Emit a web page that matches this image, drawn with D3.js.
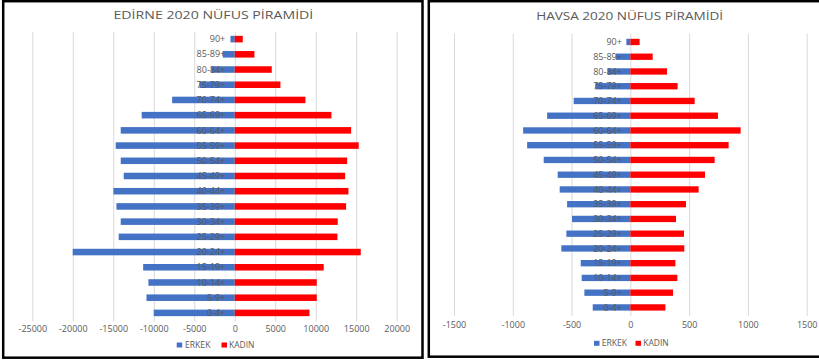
<!DOCTYPE html>
<html>
<head>
<meta charset="utf-8">
<script src="https://cdn.jsdelivr.net/npm/d3@7"></script>
<style>
  html, body { margin: 0; padding: 0; background: #fff; }
  svg { display: block; }
  text { font-family: "Open Sans", "DejaVu Sans", sans-serif; }
</style>
</head>
<body>
<svg id="chart" width="819" height="364"></svg>
<script>
// ---- data ----
const ageGroups = ["0-4+", "5-9+", "10-14+", "15-19+", "20-24+", "25-29+", "30-34+", "35-39+", "40-44+", "45-49+",
  "50-54+", "55-59+", "60-64+", "65-69+", "70-74+", "75-79+", "80-84+", "85-89+", "90+"];
const seriesNames = ["ERKEK", "KADIN"];

const edirneErkek = [10000, 10900, 10660, 11310, 20010, 14330, 14080, 14610, 14980, 13710,
  14080, 14700, 14080, 11490, 7730, 4360, 2900, 1480, 530];
const edirneKadin = [9230, 10130, 10130, 10990, 15560, 12680, 12720, 13750, 14040, 13630,
  13880, 15310, 14370, 11940, 8730, 5640, 4570, 2430, 990];

const havsaErkek = [320, 391, 414, 422, 587, 544, 496, 538, 601, 618,
  737, 878, 912, 708, 482, 298, 193, 122, 34];
const havsaKadin = [298, 363, 400, 383, 459, 456, 388, 473, 581, 635,
  717, 836, 938, 745, 547, 402, 312, 190, 79];

const edirneTicks = [-25000, -20000, -15000, -10000, -5000, 0, 5000, 10000, 15000, 20000];
const havsaTicks = [-1500, -1000, -500, 0, 500, 1000, 1500];

const edirneTitle = "EDİRNE 2020 NÜFUS PİRAMİDİ";
const havsaTitle = "HAVSA 2020 NÜFUS PİRAMİDİ";

// ---- styles ----
const BLUE = "#4472C4", RED = "#FF0000", GRID = "#d9d9d9", TXT = "#595959";

const svg = d3.select("#chart");

// place text so that it spans a target width by stretching the glyphs horizontally
function stretchedText(parent, txt, x0, cy, targetW, size, anchor) {
  const t = parent.append("text")
    .attr("x", 0).attr("y", 0).attr("dy", "0.35em")
    .attr("fill", TXT).style("font-size", size + "px")
    .text(txt);
  const w = t.node().getComputedTextLength() || targetW;
  const s = targetW / w;
  const left = anchor === "middle" ? x0 - targetW / 2 : x0;
  t.attr("transform", `translate(${left},${cy}) scale(${s},1)`);
  return t;
}

function drawPanel(cfg) {
  const g = svg.append("g");
  // frame
  g.append("rect")
    .attr("x", cfg.frame[0]).attr("y", cfg.frame[1])
    .attr("width", cfg.frame[2]).attr("height", cfg.frame[3])
    .attr("fill", "#fff").attr("stroke", "#000").attr("stroke-width", 2.5);

  const x = d3.scaleLinear().domain(cfg.domain).range(cfg.xRange);
  const cats = ageGroups.slice().reverse(); // top = 90+
  const y = d3.scaleBand().domain(cats).range(cfg.yRange).paddingInner(0.57).paddingOuter(0.285);

  // axis with gridlines
  const axis = d3.axisBottom(x)
    .tickValues(cfg.ticks)
    .tickFormat(d3.format("d"))
    .tickSizeInner(-(cfg.gridBottom - cfg.gridTop))
    .tickSizeOuter(0)
    .tickPadding(5);
  const ax = g.append("g")
    .attr("transform", `translate(0,${cfg.gridBottom})`)
    .call(axis);
  ax.select(".domain").remove();
  ax.selectAll(".tick line").attr("stroke", GRID).attr("stroke-width", 1);
  ax.selectAll(".tick text")
    .attr("fill", TXT)
    .style("font-size", "9px")
    .attr("dy", "0.35em")
    .attr("y", cfg.tickLabelY - cfg.gridBottom)
    .text(d => d3.format("d")(d).replace("−", "-"));

  const rows = ageGroups.map((a, i) => ({ age: a, m: cfg.male[i], f: cfg.female[i] }));
  const bh = y.bandwidth();

  g.append("g").selectAll("rect").data(rows).join("rect")
    .attr("x", d => x(-d.m)).attr("y", d => y(d.age))
    .attr("width", d => x(0) - x(-d.m)).attr("height", bh)
    .attr("fill", BLUE);
  g.append("g").selectAll("rect").data(rows).join("rect")
    .attr("x", x(0)).attr("y", d => y(d.age))
    .attr("width", d => x(d.f) - x(0)).attr("height", bh)
    .attr("fill", RED);

  // category labels (drawn over bars)
  g.append("g").selectAll("text").data(rows).join("text")
    .attr("x", x(0) - cfg.labelGap)
    .attr("y", d => y(d.age) + bh / 2)
    .attr("dy", "0.35em")
    .attr("text-anchor", "end")
    .attr("fill", TXT)
    .style("font-size", "9px")
    .text(d => d.age);

  // title
  stretchedText(g, cfg.title, cfg.titleX, cfg.titleY, cfg.titleW, 11, "middle");

  // legend
  const lg = g.append("g");
  const items = [
    { name: seriesNames[0], color: BLUE, sx: cfg.legend[0], tx: cfg.legend[1] },
    { name: seriesNames[1], color: RED, sx: cfg.legend[2], tx: cfg.legend[3] }
  ];
  items.forEach(it => {
    lg.append("rect").attr("x", it.sx).attr("y", cfg.legendY - 2.5)
      .attr("width", 5.5).attr("height", 5).attr("fill", it.color);
    stretchedText(lg, it.name, it.tx, cfg.legendY, 25.5, 8.5, "start");
  });
}

drawPanel({
  frame: [3.2, 1.2, 419.3, 356.5],
  domain: [-25000, 20000], xRange: [32.3, 396.7],
  yRange: [31.5, 320.5], gridTop: 32, gridBottom: 321.5, tickLabelY: 329,
  ticks: edirneTicks, male: edirneErkek, female: edirneKadin,
  labelGap: 9.5, title: edirneTitle, titleX: 213.5, titleY: 15, titleW: 200,
  legend: [176.7, 185, 221.5, 229], legendY: 345
});

drawPanel({
  frame: [428.8, 1.2, 410, 355.5],
  domain: [-1500, 1500], xRange: [454, 806.7],
  yRange: [34.6, 314.8], gridTop: 33.5, gridBottom: 316, tickLabelY: 325.3,
  ticks: havsaTicks, male: havsaErkek, female: havsaKadin,
  labelGap: 8.5, title: havsaTitle, titleX: 629.7, titleY: 16, titleW: 187,
  legend: [594, 601.7, 635.5, 643.3], legendY: 343.3
});
</script>
</body>
</html>
